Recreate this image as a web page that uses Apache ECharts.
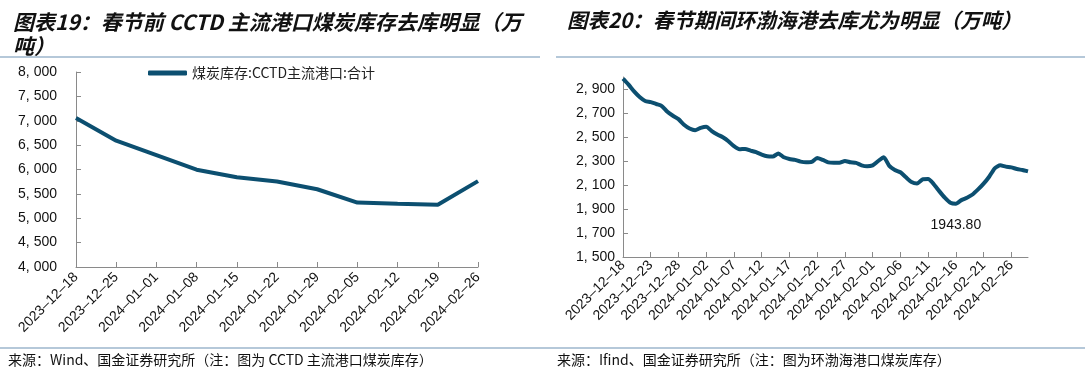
<!DOCTYPE html>
<html>
<head>
<meta charset="utf-8">
<script src="https://cdn.jsdelivr.net/npm/echarts@6/dist/echarts.min.js"></script>
<style>
  html, body { margin: 0; padding: 0; background: #fff; }
  #main { width: 1085px; height: 376px; }
</style>
</head>
<body>
<div id="main"></div>
<script>
// 左图：CCTD主流港口煤炭库存（周度）
var weekDates = ["2023-12-18", "2023-12-25", "2024-01-01", "2024-01-08", "2024-01-15",
  "2024-01-22", "2024-01-29", "2024-02-05", "2024-02-12", "2024-02-19", "2024-02-26"];
var cctdStock = [7055, 6590, 6295, 5995, 5840, 5755, 5595, 5322, 5298, 5278, 5762];

// 右图：环渤海港口煤炭库存（日度，2023-12-18 起）
var bohaiStock = [
  2986, 2936, 2880, 2833, 2800, 2791, 2775, 2758, 2710, 2677,
  2649, 2602, 2571, 2557, 2576, 2585, 2549, 2521, 2498, 2465,
  2423, 2398, 2401, 2387, 2373, 2353, 2339, 2337, 2362, 2331,
  2317, 2309, 2295, 2289, 2292, 2325, 2309, 2289, 2286, 2286,
  2300, 2289, 2284, 2264, 2256, 2264, 2300, 2331, 2259, 2225,
  2206, 2164, 2125, 2113, 2147, 2150, 2108, 2049, 1994, 1952,
  1943.8, 1974, 1994, 2021, 2063, 2111, 2169, 2239, 2264, 2253,
  2247, 2233, 2225, 2214
];

function pad(n) { return n < 10 ? "0" + n : "" + n; }
var dayDates = [];
var d0 = new Date(2023, 11, 18);
for (var i = 0; i < bohaiStock.length; i++) {
  var d = new Date(d0.getFullYear(), d0.getMonth(), d0.getDate() + i);
  dayDates.push(d.getFullYear() + "-" + pad(d.getMonth() + 1) + "-" + pad(d.getDate()));
}

var lineColor = "#0c4f70";
var axisColor = "#8a8a8a";
var sepColor = "#9db6cc";

// 千分位，逗号后留空格（原图字体的逗号较宽）
function thousands(v) {
  return String(v).replace(/\B(?=(\d{3})+(?!\d))/g, ", ");
}
// 日期里的短横用长一点的横线显示
function dateLabel(v) {
  return v.replace(/-/g, "\u2013");
}

var chart = echarts.init(document.getElementById("main"));
var option = {
  animation: false,
  textStyle: { fontFamily: "'Liberation Sans', 'Noto Sans CJK SC', sans-serif" },
  title: [
    {
      text: "图表19：春节前 CCTD 主流港口煤炭库存去库明显（万\n吨）",
      left: 8,
      top: 5,
      textStyle: {
        fontSize: 21,
        fontWeight: "bold",
        fontStyle: "italic",
        color: "#111",
        lineHeight: 24,
        fontFamily: "'Noto Sans CJK SC', sans-serif"
      }
    },
    {
      text: "图表20：春节期间环渤海港去库尤为明显（万吨）",
      left: 562,
      top: 5,
      textStyle: {
        fontSize: 20.5,
        fontWeight: "bold",
        fontStyle: "italic",
        color: "#111",
        fontFamily: "'Noto Sans CJK SC', sans-serif"
      }
    }
  ],
  legend: {
    data: [{ name: "煤炭库存:CCTD主流港口:合计", icon: "roundRect" }],
    left: 143,
    top: 61,
    itemWidth: 39,
    itemHeight: 5,
    itemGap: 3,
    textStyle: { fontSize: 14, color: "#222", fontFamily: "'Noto Sans CJK SC', sans-serif" }
  },
  grid: [
    { left: 76, top: 72, width: 402, height: 195 },
    { left: 623, top: 77, width: 405, height: 180 }
  ],
  xAxis: [
    {
      type: "category",
      gridIndex: 0,
      data: weekDates,
      boundaryGap: false,
      axisLine: { lineStyle: { color: axisColor } },
      axisTick: { inside: true, length: 5, lineStyle: { color: axisColor } },
      axisLabel: { rotate: 45, fontSize: 14, color: "#111", margin: 8, formatter: dateLabel }
    },
    {
      type: "category",
      gridIndex: 1,
      data: dayDates,
      boundaryGap: false,
      axisLine: { lineStyle: { color: axisColor } },
      axisTick: { inside: true, length: 5, interval: 4, lineStyle: { color: axisColor } },
      axisLabel: { rotate: 45, fontSize: 14, color: "#111", margin: 6, interval: 4, formatter: dateLabel }
    }
  ],
  yAxis: [
    {
      type: "value",
      gridIndex: 0,
      min: 4000,
      max: 8000,
      interval: 500,
      splitLine: { show: false },
      axisLine: { show: true, lineStyle: { color: axisColor } },
      axisTick: { show: true, inside: true, length: 5, lineStyle: { color: axisColor } },
      axisLabel: { fontSize: 14, color: "#111", margin: 19, formatter: thousands }
    },
    {
      type: "value",
      gridIndex: 1,
      min: 1500,
      max: 3000,
      interval: 200,
      splitLine: { show: false },
      axisLine: { show: true, lineStyle: { color: axisColor } },
      axisTick: { show: true, inside: true, length: 5, lineStyle: { color: axisColor } },
      axisLabel: {
        fontSize: 14,
        color: "#111",
        margin: 8,
        showMaxLabel: false,
        formatter: thousands
      }
    }
  ],
  series: [
    {
      name: "煤炭库存:CCTD主流港口:合计",
      type: "line",
      xAxisIndex: 0,
      yAxisIndex: 0,
      symbol: "none",
      lineStyle: { color: lineColor, width: 4 },
      itemStyle: { color: lineColor },
      data: cctdStock
    },
    {
      name: "环渤海港口煤炭库存",
      type: "line",
      xAxisIndex: 1,
      yAxisIndex: 1,
      symbol: "none",
      smooth: 0.2,
      lineStyle: { color: lineColor, width: 4 },
      itemStyle: { color: lineColor },
      markPoint: {
        symbol: "circle",
        symbolSize: 0,
        data: [{ type: "min" }],
        label: {
          show: true,
          position: "bottom",
          distance: 14,
          fontSize: 14,
          color: "#111",
          formatter: function (p) { return p.value.toFixed(2); }
        }
      },
      data: bohaiStock
    }
  ],
  graphic: [
    { type: "line", shape: { x1: 0, y1: 57, x2: 540, y2: 57 }, style: { stroke: sepColor, lineWidth: 1.5 } },
    { type: "line", shape: { x1: 556, y1: 57, x2: 1085, y2: 57 }, style: { stroke: sepColor, lineWidth: 1.5 } },
    { type: "line", shape: { x1: 0, y1: 348, x2: 540, y2: 348 }, style: { stroke: sepColor, lineWidth: 1.5 } },
    { type: "line", shape: { x1: 540, y1: 348, x2: 1085, y2: 348 }, style: { stroke: sepColor, lineWidth: 1.5 } },
    {
      type: "text", left: 8, top: 353,
      style: { text: "来源：Wind、国金证券研究所（注：图为 CCTD 主流港口煤炭库存）", fontSize: 14, fill: "#111", fontFamily: "'Noto Sans CJK SC', sans-serif" }
    },
    {
      type: "text", left: 557, top: 353,
      style: { text: "来源：Ifind、国金证券研究所（注：图为环渤海港口煤炭库存）", fontSize: 14, fill: "#111", fontFamily: "'Noto Sans CJK SC', sans-serif" }
    }
  ]
};
chart.setOption(option);
</script>
</body>
</html>
